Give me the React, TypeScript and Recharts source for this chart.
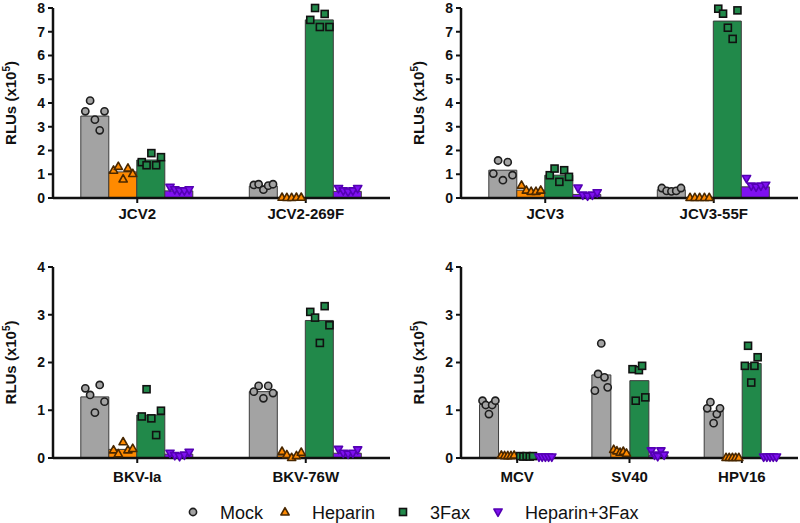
import React from 'react';
import { ComposedChart, Bar, Scatter, XAxis, YAxis } from 'recharts';

const seriesNames = ['Mock', 'Heparin', '3Fax', 'Heparin+3Fax'];
const seriesFill = ['#a3a3a3', '#ff8a00', '#21894a', '#7f10f0'];
const markerStroke = ['#1e1e1e', '#4a2800', '#111111', '#5400b4'];
const markerKind = ['circle', 'triangle', 'square', 'down'];

// top left
const jcv2Cats = ['JCV2', 'JCV2-269F'];
const jcv2Means = [
  [3.45, 1.1, 1.6, 0.3],
  [0.5, 0.02, 7.5, 0.28],
];
const jcv2Points = [
  [
    [3.65, 4.1, 3.3, 2.85, 3.65],
    [1.17, 1.33, 0.8, 1.26, 1.03],
    [1.51, 1.38, 1.89, 1.38, 1.72],
    [0.45, 0.35, 0.3, 0.3, 0.35],
  ],
  [
    [0.55, 0.58, 0.35, 0.52, 0.58],
    [0.03, 0.02, 0.02, 0.03, 0.03],
    [7.5, 8.0, 7.2, 7.75, 7.2],
    [0.4, 0.3, 0.25, 0.3, 0.4],
  ],
];

// top right
const jcv3Cats = ['JCV3', 'JCV3-55F'];
const jcv3Means = [
  [1.17, 0.33, 0.96, 0.15],
  [0.35, 0.02, 7.45, 0.47],
];
const jcv3Points = [
  [
    [1.03, 1.58, 0.75, 1.51, 0.96],
    [0.54, 0.33, 0.28, 0.28, 0.33],
    [0.96, 1.24, 0.68, 1.17, 0.89],
    [0.42, 0.12, 0.08, 0.12, 0.22],
  ],
  [
    [0.42, 0.3, 0.28, 0.3, 0.42],
    [0.02, 0.02, 0.02, 0.02, 0.02],
    [7.97, 7.76, 7.17, 6.7, 7.9],
    [0.82, 0.5, 0.46, 0.5, 0.54],
  ],
];

// bottom left
const bkvCats = ['BKV-Ia', 'BKV-76W'];
const bkvMeans = [
  [1.28, 0.18, 0.9, 0.08],
  [1.39, 0.06, 2.88, 0.1],
];
const bkvPoints = [
  [
    [1.46, 1.32, 0.95, 1.53, 1.18],
    [0.17, 0.09, 0.34, 0.17, 0.2],
    [0.87, 1.44, 0.83, 0.48, 0.99],
    [0.1, 0.05, 0.03, 0.06, 0.12],
  ],
  [
    [1.39, 1.51, 1.25, 1.51, 1.36],
    [0.14, 0.07, 0.01, 0.05, 0.12],
    [3.06, 2.94, 2.41, 3.18, 2.78],
    [0.18, 0.1, 0.08, 0.1, 0.17],
  ],
];

// bottom right
const otherCats = ['MCV', 'SV40', 'HPV16'];
const otherMeans = [
  [1.12, 0.05, 0.04, 0.02],
  [1.74, 0.12, 1.62, 0.06],
  [0.98, 0.01, 1.98, 0.02],
];
const otherPoints = [
  [
    [1.2, 1.11, 0.92, 1.11, 1.2],
    [0.06, 0.05, 0.05, 0.05, 0.06],
    [0.04, 0.03, 0.04, 0.03, 0.04],
    [0.02, 0.02, 0.02, 0.02, 0.02],
  ],
  [
    [1.41, 1.76, 2.4, 1.69, 1.48],
    [0.18, 0.15, 0.12, 0.14, 0.1],
    [1.86, 1.2, 1.84, 1.93, 1.27],
    [0.15, 0.06, 0.03, 0.15, 0.06],
  ],
  [
    [1.04, 1.17, 0.73, 0.92, 1.04],
    [0.01, 0.01, 0.01, 0.01, 0.01],
    [1.93, 2.35, 1.58, 1.93, 2.11],
    [0.02, 0.02, 0.02, 0.02, 0.02],
  ],
];

const ticks8 = [0, 1, 2, 3, 4, 5, 6, 7, 8];
const ticks4 = [0, 1, 2, 3, 4];

const FONT = '"Liberation Sans", Arial, Helvetica, sans-serif';
const INK = '#111';
const GROUP_GAP = 0.165;
const BAR_FRAC = (1 - 2 * GROUP_GAP) / 4;
const SPREAD = [-0.34, -0.17, 0, 0.17, 0.34];

function Marker({ cx, cy, k }: any) {
  if (cx == null || cy == null) return null;
  const fill = seriesFill[k];
  const stroke = markerStroke[k];
  const kind = markerKind[k];
  const sw = 1.6;
  if (kind === 'circle') return <circle cx={cx} cy={cy} r={3.6} fill={fill} stroke={stroke} strokeWidth={sw} />;
  if (kind === 'square')
    return <rect x={cx - 3.5} y={cy - 3.5} width={7} height={7} fill={fill} stroke={stroke} strokeWidth={sw} />;
  if (kind === 'triangle')
    return (
      <polygon
        points={`${cx},${cy - 4.3} ${cx + 4.1},${cy + 3} ${cx - 4.1},${cy + 3}`}
        fill={fill}
        stroke={stroke}
        strokeWidth={sw}
        strokeLinejoin="round"
      />
    );
  return (
    <polygon
      points={`${cx},${cy + 4.3} ${cx + 4.1},${cy - 3} ${cx - 4.1},${cy - 3}`}
      fill={fill}
      stroke={stroke}
      strokeWidth={sw}
      strokeLinejoin="round"
    />
  );
}

function YTitle(props: any) {
  const vb = props.viewBox || { x: 0, y: 0, width: 0, height: 0 };
  const x = vb.x + vb.width - 37;
  const y = vb.y + vb.height / 2;
  return (
    <text
      x={x}
      y={y}
      transform={`rotate(-90 ${x} ${y})`}
      textAnchor="middle"
      fontFamily={FONT}
      fontWeight="bold"
      fontSize={15}
      fill={INK}
    >
      RLUs (x10
      <tspan dy={-6} fontSize={10}>
        5
      </tspan>
      <tspan dy={6}>)</tspan>
    </text>
  );
}

interface PanelProps {
  cats: string[];
  means: number[][];
  points: number[][][];
  yMax: number;
  yTicks: number[];
  height: number;
  margin: { top: number; right: number; bottom: number; left: number };
  yWidth: number;
  labelGap: number;
}

function Panel({ cats, means, points, yMax, yTicks, height, margin, yWidth, labelGap }: PanelProps) {
  const data = cats.map((name, i) => ({
    name,
    s0: means[i][0],
    s1: means[i][1],
    s2: means[i][2],
    s3: means[i][3],
  }));
  const dots = (k: number) =>
    cats.flatMap((_, i) =>
      points[i][k].map((v, j) => ({
        x: i + 0.5 + (k - 1.5) * BAR_FRAC + SPREAD[j] * BAR_FRAC,
        y: v,
      }))
    );
  return (
    <ComposedChart
      width={400}
      height={height}
      data={data}
      margin={margin}
      barGap={0}
      barCategoryGap={`${GROUP_GAP * 100}%`}
    >
      <XAxis
        xAxisId="cat"
        dataKey="name"
        type="category"
        height={30}
        tickSize={5}
        tickMargin={labelGap}
        axisLine={{ stroke: INK, strokeWidth: 2.5 }}
        tickLine={{ stroke: INK, strokeWidth: 2 }}
        tick={{ fill: INK, fontSize: 15, fontWeight: 'bold', fontFamily: FONT }}
      />
      <XAxis xAxisId="pts" type="number" dataKey="x" domain={[0, cats.length]} allowDataOverflow hide />
      <YAxis
        type="number"
        domain={[0, yMax]}
        ticks={yTicks}
        interval={0}
        width={yWidth}
        tickSize={5}
        tickMargin={3}
        axisLine={{ stroke: INK, strokeWidth: 2.5 }}
        tickLine={{ stroke: INK, strokeWidth: 2 }}
        tick={{ fill: INK, fontSize: 14, fontWeight: 'bold', fontFamily: FONT }}
        label={<YTitle />}
      />
      {seriesNames.map((s, k) => (
        <Bar
          key={s}
          xAxisId="cat"
          dataKey={`s${k}`}
          name={s}
          fill={seriesFill[k]}
          stroke="#3c3c3c"
          strokeWidth={1}
          isAnimationActive={false}
        />
      ))}
      {seriesNames.map((s, k) => (
        <Scatter
          key={`pts-${s}`}
          xAxisId="pts"
          data={dots(k)}
          dataKey="y"
          name={s}
          shape={(p: any) => <Marker cx={p.cx} cy={p.cy} k={k} />}
          isAnimationActive={false}
        />
      ))}
    </ComposedChart>
  );
}

const legendMarkerX = [193, 285, 403, 498];

function BottomLegend() {
  return (
    <svg width={800} height={30}>
      {seriesNames.map((s, k) => (
        <g key={s}>
          <Marker cx={legendMarkerX[k]} cy={15} k={k} />
          <text x={legendMarkerX[k] + 27} y={21.5} fontFamily={FONT} fontSize={18} fill={INK}>
            {s}
          </text>
        </g>
      ))}
    </svg>
  );
}

export default function App() {
  return (
    <div style={{ position: 'absolute', left: 0, top: 0, width: 800, height: 523, background: '#fff' }}>
      <div style={{ position: 'absolute', left: 0, top: 0 }}>
        <Panel
          cats={jcv2Cats}
          means={jcv2Means}
          points={jcv2Points}
          yMax={8}
          yTicks={ticks8}
          height={230}
          margin={{ top: 8, right: 10, bottom: 2, left: 0 }}
          yWidth={53}
          labelGap={5}
        />
      </div>
      <div style={{ position: 'absolute', left: 400, top: 0 }}>
        <Panel
          cats={jcv3Cats}
          means={jcv3Means}
          points={jcv3Points}
          yMax={8}
          yTicks={ticks8}
          height={230}
          margin={{ top: 8, right: 2, bottom: 2, left: 0 }}
          yWidth={61}
          labelGap={5}
        />
      </div>
      <div style={{ position: 'absolute', left: 0, top: 250 }}>
        <Panel
          cats={bkvCats}
          means={bkvMeans}
          points={bkvPoints}
          yMax={4}
          yTicks={ticks4}
          height={240}
          margin={{ top: 17, right: 10, bottom: 2, left: 0 }}
          yWidth={53}
          labelGap={8}
        />
      </div>
      <div style={{ position: 'absolute', left: 400, top: 250 }}>
        <Panel
          cats={otherCats}
          means={otherMeans}
          points={otherPoints}
          yMax={4}
          yTicks={ticks4}
          height={240}
          margin={{ top: 17, right: 2, bottom: 2, left: 0 }}
          yWidth={61}
          labelGap={8}
        />
      </div>
      <div style={{ position: 'absolute', left: 0, top: 497 }}>
        <BottomLegend />
      </div>
    </div>
  );
}
